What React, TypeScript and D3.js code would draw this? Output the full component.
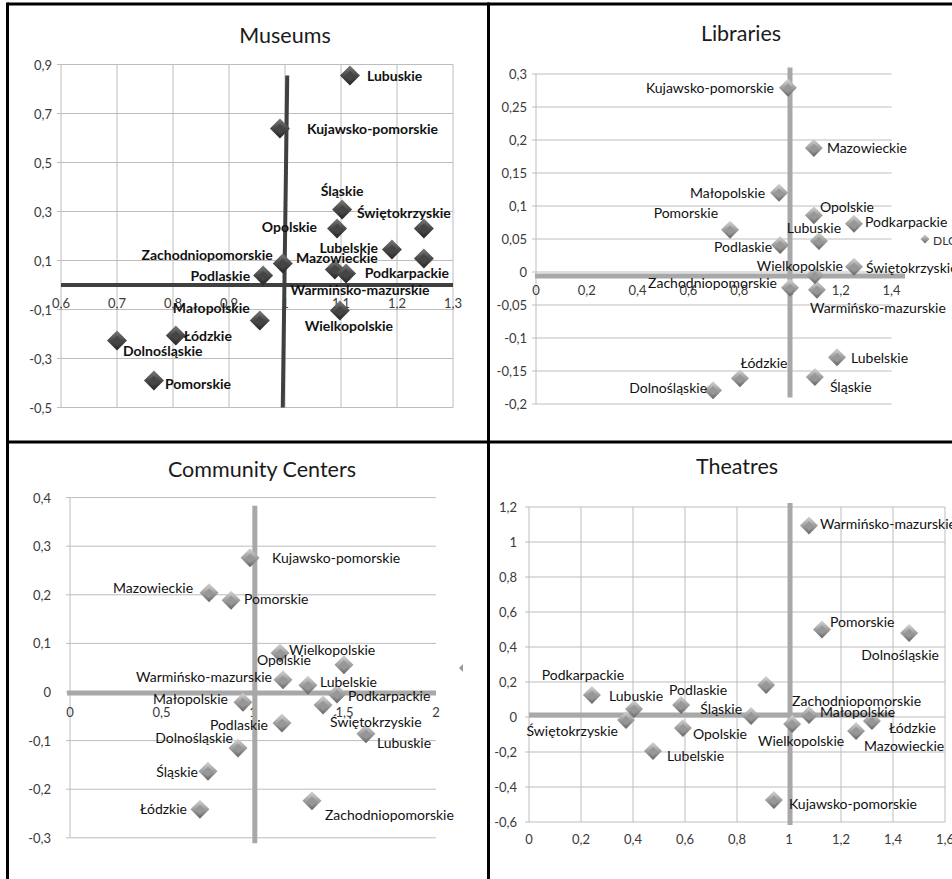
import React from "react";
import * as d3 from "d3";

// ---------- DATA ----------
const voivodeships = [
  "Dolnośląskie", "Kujawsko-pomorskie", "Lubelskie", "Lubuskie", "Łódzkie", "Małopolskie",
  "Mazowieckie", "Opolskie", "Podkarpackie", "Podlaskie", "Pomorskie", "Śląskie",
  "Świętokrzyskie", "Warmińsko-mazurskie", "Wielkopolskie", "Zachodniopomorskie",
];

const museumsX = [0.70, 0.991, 1.191, 1.116, 0.805, 0.955, 1.089, 1.093, 1.248, 0.961, 0.766, 1.102, 1.248, 1.109, 1.098, 0.996];
const museumsY = [-0.227, 0.639, 0.145, 0.855, -0.206, -0.145, 0.063, 0.231, 0.108, 0.039, -0.39, 0.308, 0.231, 0.047, -0.104, 0.088];

const librariesX = [0.697, 0.992, 1.185, 1.114, 0.803, 0.957, 1.094, 1.094, 1.252, 0.961, 0.764, 1.098, 1.252, 1.106, 1.098, 1.0];
const librariesY = [-0.179, 0.279, -0.129, 0.047, -0.161, 0.12, 0.188, 0.086, 0.073, 0.041, 0.064, -0.159, 0.008, -0.027, -0.005, -0.024];

const communityX = [0.918, 0.984, 1.30, 1.617, 0.71, 0.945, 0.76, 1.497, 1.459, 1.158, 0.88, 0.754, 1.383, 1.164, 1.148, 1.322];
const communityY = [-0.115, 0.276, 0.014, -0.086, -0.241, -0.021, 0.204, 0.056, -0.004, -0.064, 0.189, -0.163, -0.027, 0.025, 0.08, -0.224];

const theatresX = [1.462, 0.942, 0.477, 0.404, 1.319, 1.077, 1.258, 0.592, 0.242, 0.585, 1.127, 0.854, 0.373, 1.077, 1.012, 0.912];
const theatresY = [0.48, -0.474, -0.194, 0.046, -0.023, 0.011, -0.08, -0.063, 0.126, 0.069, 0.5, 0.006, -0.017, 1.094, -0.04, 0.183];

const museumsXTicks = [0.6, 0.7, 0.8, 0.9, 1, 1.1, 1.2, 1.3];
const museumsYTicks = [0.9, 0.7, 0.5, 0.3, 0.1, -0.1, -0.3, -0.5];
const librariesXTicks = [0, 0.2, 0.4, 0.6, 0.8, 1, 1.2, 1.4];
const librariesYTicks = [0.3, 0.25, 0.2, 0.15, 0.1, 0.05, 0, -0.05, -0.1, -0.15, -0.2];
const communityXTicks = [0, 0.5, 1, 1.5, 2];
const communityYTicks = [0.4, 0.3, 0.2, 0.1, 0, -0.1, -0.2, -0.3];
const theatresXTicks = [0, 0.2, 0.4, 0.6, 0.8, 1, 1.2, 1.4, 1.6];
const theatresYTicks = [1.2, 1, 0.8, 0.6, 0.4, 0.2, 0, -0.2, -0.4, -0.6];

// quadrant divider lines, in data units: [x1, y1, x2, y2]
const museumsDividers = [[0.6, 0.0, 1.3, 0.0], [1.004, 0.855, 0.996, -0.5]];
const librariesDividers = [[-0.004, -0.006, 1.453, -0.006], [1.0, 0.31, 1.0, -0.19]];
const communityDividers = [[-0.016, -0.002, 2.0, -0.002], [1.01, 0.383, 1.01, -0.311]];
const theatresDividers = [[0, 0.011, 1.404, 0.011], [1.004, 1.223, 1.004, -0.617]];

// ---------- LABEL PLACEMENT (anchor, dx, dy in px, same order as voivodeships) ----------
type P = [string, number, number];
const museumsLabelPos: P[] = [
  ["start", 6, 10], ["start", 27, 0], ["end", -14, -2], ["start", 17, 0], ["start", 8, 0], ["end", -10, -13],
  ["middle", 2, -12], ["end", -20, -2], ["middle", -17, 14], ["end", -13, 0], ["start", 11, 3], ["middle", 0, -19],
  ["start", -67, -16], ["middle", 14, 16], ["middle", 9, 15], ["end", -10, -9],
];
const librariesLabelPos: P[] = [
  ["end", -6, -3], ["end", -14, 0], ["start", 14, 0], ["middle", -5, -13], ["middle", 24, -16], ["end", -14, 0],
  ["start", 13, 0], ["start", 6, -9], ["start", 11, -2], ["end", -8, 2], ["end", -12, -17], ["start", 15, 10],
  ["start", 12, 1], ["start", -7, 18], ["middle", -15, -10], ["end", -13, -5],
];
const communityLabelPos: P[] = [
  ["end", -5, -10], ["start", 22, 0], ["start", 12, -4], ["start", 11, 9], ["end", -13, -1], ["end", -15, -4],
  ["end", -16, -5], ["middle", -60, -5], ["start", 11, 2], ["end", -14, 1], ["start", 13, -2], ["end", -10, 0],
  ["start", 7, 16], ["end", -11, -3], ["start", 9, -4], ["start", 13, 14],
];
const theatresLabelPos: P[] = [
  ["middle", -9, 21], ["start", 15, 4], ["start", 14, 5], ["middle", 2, -13], ["start", 17, 6], ["start", 11, -4],
  ["start", 8, 14], ["start", 10, 5], ["middle", -9, -20], ["middle", 17, -15], ["start", 8, -8], ["end", -9, -7],
  ["end", -8, 11], ["start", 11, -2], ["middle", 9, 16], ["start", 26, 16],
];

const FONT = "Lato, 'Open Sans', sans-serif";
const fmt = (v: number) => String(v).replace(".", ",");

type PanelCfg = {
  title: string; titleX: number; titleY: number;
  xs: number[]; ys: number[]; pos: P[];
  xDomain: [number, number]; xRange: [number, number];
  yDomain: [number, number]; yRange: [number, number];
  xTicks: number[]; yTicks: number[];
  vGrid: boolean; xLabelsAtZero: boolean; xLabelOffset: number; yLabelGap: number;
  dark: boolean; bold: boolean; r: number;
  dividers: number[][]; divColor: string; divWidth: number;
  axisLine: boolean;
};

function Diamond({ cx, cy, r, dark }: { cx: number; cy: number; r: number; dark: boolean }) {
  const p = (s: number, oy = 0) =>
    `M${cx},${cy + oy - r * s}L${cx + r * s},${cy + oy}L${cx},${cy + oy + r * s}L${cx - r * s},${cy + oy}Z`;
  return (
    <g>
      <path d={p(1)} fill={dark ? "url(#gDark)" : "url(#gLight)"} />
      <path d={p(0.52, 0.5)} fill={dark ? "#454545" : "#979797"} />
    </g>
  );
}

function Panel({ c }: { c: PanelCfg }) {
  const x = d3.scaleLinear().domain(c.xDomain).range(c.xRange);
  const y = d3.scaleLinear().domain(c.yDomain).range(c.yRange);
  const [x0, x1] = c.xRange;
  const yTop = y(c.yDomain[1]);
  const yBot = y(c.yDomain[0]);
  const xLabelY = (c.xLabelsAtZero ? y(0) : yBot) + c.xLabelOffset;
  return (
    <g>
      <text x={c.titleX} y={c.titleY} textAnchor="middle" dominantBaseline="central"
        fontFamily={FONT} fontSize={21.5} fill="#1a1a1a">{c.title}</text>
      {c.yTicks.map((t) => (
        <line key={"h" + t} x1={x0 - 4} x2={x1} y1={y(t)} y2={y(t)} stroke="#bdbdbd" strokeWidth={1} />
      ))}
      {c.vGrid && c.xTicks.map((t) => (
        <line key={"v" + t} x1={x(t)} x2={x(t)} y1={yTop} y2={yBot} stroke="#bdbdbd" strokeWidth={1} />
      ))}
      {c.axisLine && <line x1={x0} x2={x0} y1={yTop} y2={yBot} stroke="#bdbdbd" strokeWidth={1} />}
      {c.yTicks.map((t) => (
        <text key={"yl" + t} x={x0 - c.yLabelGap} y={y(t)} textAnchor="end" dominantBaseline="central"
          fontFamily={FONT} fontSize={13} fill="#3a3a3a">{fmt(t)}</text>
      ))}
      {c.xTicks.map((t) => (
        <text key={"xl" + t} x={x(t)} y={xLabelY} textAnchor="middle" dominantBaseline="central"
          fontFamily={FONT} fontSize={13} fill="#3a3a3a">{fmt(t)}</text>
      ))}
      {c.dividers.map((d, i) => (
        <line key={"d" + i} x1={x(d[0])} y1={y(d[1])} x2={x(d[2])} y2={y(d[3])}
          stroke={c.divColor} strokeWidth={c.divWidth} />
      ))}
      {c.xs.map((xv, i) => (
        <Diamond key={"m" + i} cx={x(xv)} cy={y(c.ys[i])} r={c.r} dark={c.dark} />
      ))}
      {c.xs.map((xv, i) => {
        const [anchor, dx, dy] = c.pos[i];
        return (
          <text key={"t" + i} x={x(xv) + dx} y={y(c.ys[i]) + dy} textAnchor={anchor as any}
            dominantBaseline="central" fontFamily={FONT} fontSize={14}
            fontWeight={c.bold ? 700 : 400} fill="#111">{voivodeships[i]}</text>
        );
      })}
    </g>
  );
}

export default function App() {
  const panels: PanelCfg[] = [
    {
      title: "Museums", titleX: 285, titleY: 35, xs: museumsX, ys: museumsY, pos: museumsLabelPos,
      xDomain: [0.6, 1.3], xRange: [61, 453], yDomain: [-0.5, 0.9], yRange: [407.5, 64.5],
      xTicks: museumsXTicks, yTicks: museumsYTicks, vGrid: true, xLabelsAtZero: true, xLabelOffset: 18,
      yLabelGap: 9, dark: true, bold: true, r: 10, dividers: museumsDividers, divColor: "#404040", divWidth: 4,
      axisLine: false,
    },
    {
      title: "Libraries", titleX: 741, titleY: 33, xs: librariesX, ys: librariesY, pos: librariesLabelPos,
      xDomain: [0, 1.4], xRange: [536, 891.6], yDomain: [-0.2, 0.3], yRange: [404, 74],
      xTicks: librariesXTicks, yTicks: librariesYTicks, vGrid: false, xLabelsAtZero: true, xLabelOffset: 18,
      yLabelGap: 9, dark: false, bold: false, r: 9, dividers: librariesDividers, divColor: "#a8a8a8", divWidth: 5,
      axisLine: true,
    },
    {
      title: "Community Centers", titleX: 262, titleY: 469, xs: communityX, ys: communityY, pos: communityLabelPos,
      xDomain: [0, 2], xRange: [70, 436], yDomain: [-0.3, 0.4], yRange: [837.8, 497.6],
      xTicks: communityXTicks, yTicks: communityYTicks, vGrid: false, xLabelsAtZero: true, xLabelOffset: 20,
      yLabelGap: 19, dark: false, bold: false, r: 9.5, dividers: communityDividers, divColor: "#a8a8a8", divWidth: 5,
      axisLine: true,
    },
    {
      title: "Theatres", titleX: 737, titleY: 466, xs: theatresX, ys: theatresY, pos: theatresLabelPos,
      xDomain: [0, 1.6], xRange: [529, 945], yDomain: [-0.6, 1.2], yRange: [822, 507],
      xTicks: theatresXTicks, yTicks: theatresYTicks, vGrid: true, xLabelsAtZero: false, xLabelOffset: 17,
      yLabelGap: 12, dark: false, bold: false, r: 9, dividers: theatresDividers, divColor: "#a8a8a8", divWidth: 5,
      axisLine: false,
    },
  ];
  return (
    <svg width={952} height={879} style={{ position: "absolute", left: 0, top: 0, background: "#fff" }}>
      <defs>
        <linearGradient id="gDark" x1="0" y1="0" x2="0" y2="1">
          <stop offset="0" stopColor="#7a7a7a" />
          <stop offset="0.5" stopColor="#4a4a4a" />
          <stop offset="1" stopColor="#262626" />
        </linearGradient>
        <linearGradient id="gLight" x1="0" y1="0" x2="0" y2="1">
          <stop offset="0" stopColor="#d4d4d4" />
          <stop offset="0.5" stopColor="#a0a0a0" />
          <stop offset="1" stopColor="#676767" />
        </linearGradient>
      </defs>
      <rect x={0} y={0} width={952} height={879} fill="#fff" />
      {panels.map((p) => <Panel key={p.title} c={p} />)}
      {/* Libraries legend (partly cut off) */}
      <path d="M925,234.5L929.5,239L925,243.5L920.5,239Z" fill="url(#gLight)" />
      <text x={933} y={240} dominantBaseline="central" fontFamily={FONT} fontSize={12} fill="#333">DLG</text>
      {/* Community centers stray legend marker */}
      <path d="M463,664L459,668L463,672Z" fill="#9a9a9a" />
      {/* frame */}
      <g stroke="#000" strokeWidth={3}>
        <line x1={7.5} y1={4} x2={952} y2={4} />
        <line x1={7.5} y1={442} x2={952} y2={442} />
        <line x1={7.5} y1={2.5} x2={7.5} y2={879} />
        <line x1={488.5} y1={2.5} x2={488.5} y2={879} />
      </g>
    </svg>
  );
}
